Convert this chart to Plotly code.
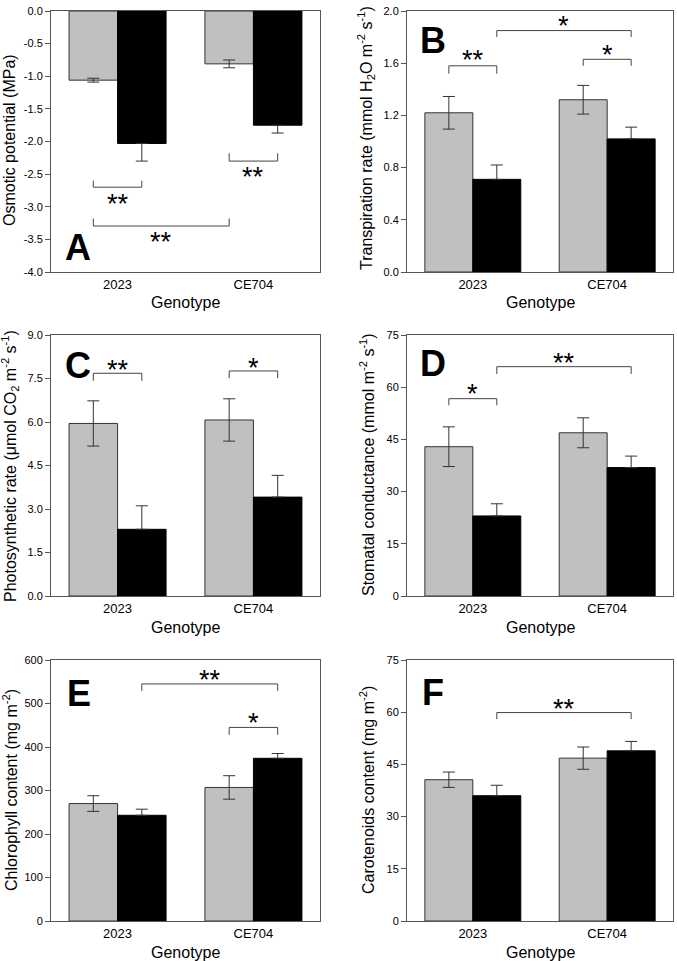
import plotly.graph_objects as go

W, H = 677, 961

genotypes = ["2023", "CE704"]

# means and SE (grey = control, black = stress)
osm_ctrl = [-1.06, -0.81]
osm_ctrl_err = [0.03, 0.06]
osm_str = [-2.03, -1.75]
osm_str_err = [0.27, 0.12]

trans_ctrl = [1.22, 1.32]
trans_ctrl_err = [0.125, 0.11]
trans_str = [0.71, 1.02]
trans_str_err = [0.11, 0.09]

photo_ctrl = [5.95, 6.07]
photo_ctrl_err = [0.78, 0.73]
photo_str = [2.30, 3.41]
photo_str_err = [0.81, 0.75]

stom_ctrl = [42.9, 46.9]
stom_ctrl_err = [5.7, 4.3]
stom_str = [23.0, 36.9]
stom_str_err = [3.5, 3.3]

chl_ctrl = [270, 307]
chl_ctrl_err = [18, 27]
chl_str = [243, 374]
chl_str_err = [14, 11]

car_ctrl = [40.6, 46.8]
car_ctrl_err = [2.2, 3.2]
car_str = [36.0, 48.9]
car_str_err = [3.0, 2.7]

osm_ticks = [0, -0.5, -1.0, -1.5, -2.0, -2.5, -3.0, -3.5, -4.0]
trans_ticks = [0, 0.4, 0.8, 1.2, 1.6, 2.0]
photo_ticks = [0, 1.5, 3.0, 4.5, 6.0, 7.5, 9.0]
stom_ticks = [0, 15, 30, 45, 60, 75]
chl_ticks = [0, 100, 200, 300, 400, 500, 600]
car_ticks = [0, 15, 30, 45, 60, 75]

# significance brackets: (bar from, bar to, line y, tip y, star y, label)
# bars: 0 = 2023 grey, 1 = 2023 black, 2 = CE704 grey, 3 = CE704 black
osm_sig = [(0, 1, -2.70, -2.60, -2.88, "**"), (2, 3, -2.30, -2.18, -2.46, "**"),
           (0, 2, -3.295, -3.18, -3.47, "**")]
trans_sig = [(0, 1, 1.58, 1.52, 1.66, "**"), (2, 3, 1.63, 1.58, 1.70, "*"),
             (1, 3, 1.85, 1.80, 1.925, "*")]
photo_sig = [(0, 1, 7.68, 7.42, 7.97, "**"), (2, 3, 7.76, 7.51, 8.04, "*")]
stom_sig = [(0, 1, 56.7, 54.8, 59.4, "*"), (1, 3, 65.9, 63.8, 68.3, "**")]
chl_sig = [(2, 3, 445, 428, 466, "*"), (1, 3, 545, 529, 566, "**")]
car_sig = [(1, 3, 59.9, 58.0, 62.4, "**")]

panels = [
    dict(ctrl=osm_ctrl, ctrl_err=osm_ctrl_err, st=osm_str, st_err=osm_str_err,
         yr=[-4, 0], ticks=osm_ticks, fmt="{:.1f}", sig=osm_sig, letter="A",
         lpos=(78, 247), title="Osmotic potential (MPa)", tpos=(10, 140)),
    dict(ctrl=trans_ctrl, ctrl_err=trans_ctrl_err, st=trans_str, st_err=trans_str_err,
         yr=[0, 2], ticks=trans_ticks, fmt="{:.1f}", sig=trans_sig, letter="B",
         lpos=(433, 40),
         title="Transpiration rate (mmol H<sub>2</sub>O m<sup>-2</sup> s<sup>-1</sup>)",
         tpos=(366, 138)),
    dict(ctrl=photo_ctrl, ctrl_err=photo_ctrl_err, st=photo_str, st_err=photo_str_err,
         yr=[0, 9], ticks=photo_ticks, fmt="{:.1f}", sig=photo_sig, letter="C",
         lpos=(78, 365),
         title="Photosynthetic rate (\u03bcmol CO<sub>2</sub> m<sup>-2</sup> s<sup>-1</sup>)",
         tpos=(10, 466)),
    dict(ctrl=stom_ctrl, ctrl_err=stom_ctrl_err, st=stom_str, st_err=stom_str_err,
         yr=[0, 75], ticks=stom_ticks, fmt="{:.0f}", sig=stom_sig, letter="D",
         lpos=(433, 363),
         title="Stomatal conductance (mmol m<sup>-2</sup> s<sup>-1</sup>)",
         tpos=(367, 464)),
    dict(ctrl=chl_ctrl, ctrl_err=chl_ctrl_err, st=chl_str, st_err=chl_str_err,
         yr=[0, 600], ticks=chl_ticks, fmt="{:.0f}", sig=chl_sig, letter="E",
         lpos=(79, 693), title="Chlorophyll content (mg m<sup>-2</sup>)", tpos=(10, 790)),
    dict(ctrl=car_ctrl, ctrl_err=car_ctrl_err, st=car_str, st_err=car_str_err,
         yr=[0, 75], ticks=car_ticks, fmt="{:.0f}", sig=car_sig, letter="F",
         lpos=(433, 692), title="Carotenoids content (mg m<sup>-2</sup>)", tpos=(367, 790)),
]

COL_X = [(51, 320), (407, 673)]
ROW_Y = [(11, 272), (335, 596), (660, 921)]
XR = [-0.49, 1.49]
BW = 0.357
FONT = "Arial, Liberation Sans, sans-serif"
FRAME = "#555555"

fig = go.Figure()
layout = dict(width=W, height=H, margin=dict(l=0, r=0, t=0, b=0),
              paper_bgcolor="white", plot_bgcolor="white", template="none",
              showlegend=False, font=dict(family=FONT, color="black"))
annotations = []
shapes = []

for i, p in enumerate(panels):
    n = i + 1
    row, col = divmod(i, 2)
    xa = "x" if n == 1 else "x%d" % n
    ya = "y" if n == 1 else "y%d" % n
    neg = p["ctrl"][0] < 0

    fig.add_trace(go.Bar(
        x=[0, 1], y=p["ctrl"], width=BW, offset=-BW, xaxis=xa, yaxis=ya,
        marker=dict(color="#c0c0c0", line=dict(color="#333333", width=1)),
        error_y=dict(type="data", array=p["ctrl_err"], color="#333333",
                     thickness=1, width=6)))
    zeros = [0] * len(p["st_err"])
    fig.add_trace(go.Bar(
        x=[0, 1], y=p["st"], width=BW, offset=0, xaxis=xa, yaxis=ya,
        marker=dict(color="black", line=dict(color="black", width=1)),
        error_y=dict(type="data", symmetric=False,
                     array=zeros if neg else p["st_err"],
                     arrayminus=p["st_err"] if neg else zeros,
                     color="#333333", thickness=1, width=6)))

    x0, x1 = COL_X[col]
    y0, y1 = ROW_Y[row]
    key = "" if n == 1 else str(n)
    layout["xaxis" + key] = dict(
        domain=[x0 / W, x1 / W], anchor=ya, range=XR, tickvals=[0, 1],
        ticktext=genotypes, ticks="", showline=True, mirror=True,
        linecolor=FRAME, linewidth=1, showgrid=False, zeroline=False,
        tickfont=dict(size=13, family=FONT, color="black"))
    layout["yaxis" + key] = dict(
        domain=[1 - y1 / H, 1 - y0 / H], anchor=xa, range=p["yr"],
        tickvals=p["ticks"], ticktext=[p["fmt"].format(t) for t in p["ticks"]],
        ticks="outside", ticklen=5, tickcolor=FRAME, showline=True, mirror=True,
        linecolor=FRAME, linewidth=1, showgrid=False, zeroline=False,
        tickfont=dict(size=11, family=FONT, color="black"))

    centers = [-BW / 2, BW / 2, 1 - BW / 2, 1 + BW / 2]
    for a, b, yl, yt, ys, lab in p["sig"]:
        shapes.append(dict(
            type="path", xref=xa, yref=ya,
            path="M %f,%f L %f,%f L %f,%f L %f,%f" % (
                centers[a], yt, centers[a], yl, centers[b], yl, centers[b], yt),
            line=dict(color="#444444", width=1)))
        annotations.append(dict(
            x=(centers[a] + centers[b]) / 2, y=ys, xref=xa, yref=ya, text=lab,
            showarrow=False, yanchor="middle", yshift=-5,
            font=dict(size=27, family=FONT, color="black")))

    lx, ly = p["lpos"]
    annotations.append(dict(
        x=lx / W, y=1 - ly / H, xref="paper", yref="paper",
        text="<b>%s</b>" % p["letter"], showarrow=False,
        xanchor="center", yanchor="middle",
        font=dict(size=36, family=FONT, color="black")))

    tx, ty = p["tpos"]
    annotations.append(dict(
        x=tx / W, y=1 - ty / H, xref="paper", yref="paper", text=p["title"],
        textangle=-90, showarrow=False, xanchor="center", yanchor="middle",
        font=dict(size=16, family=FONT, color="black")))

    annotations.append(dict(
        x=((x0 + x1) / 2) / W, y=1 - (y1 + 31) / H, xref="paper", yref="paper",
        text="Genotype", showarrow=False, xanchor="center", yanchor="middle",
        font=dict(size=16, family=FONT, color="black")))

layout["annotations"] = annotations
layout["shapes"] = shapes
fig.update_layout(**layout)

# drop the page's default body margin so the figure sits at the window's corner
fig.write_html("out.html", config={"displayModeBar": False},
               post_script="document.body.style.margin='0';"
                           "document.body.style.overflow='hidden';")
